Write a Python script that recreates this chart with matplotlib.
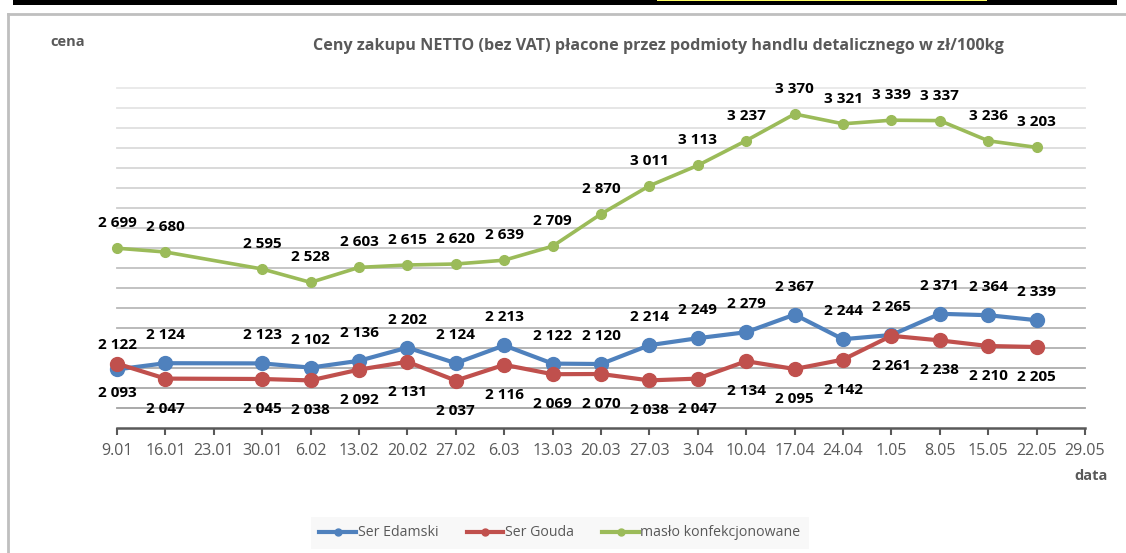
import matplotlib
matplotlib.use("Agg")
import matplotlib.pyplot as plt
from matplotlib.lines import Line2D
from matplotlib.patches import Rectangle

plt.rcParams['font.family'] = ['Open Sans', 'DejaVu Sans']

# tick labels on the x axis (weekly)
tick_dates = ["9.01", "16.01", "23.01", "30.01", "6.02", "13.02", "20.02", "27.02",
              "6.03", "13.03", "20.03", "27.03", "3.04", "10.04", "17.04", "24.04",
              "1.05", "8.05", "15.05", "22.05", "29.05"]

# dates with observations
obs_dates = ["9.01", "16.01", "30.01", "6.02", "13.02", "20.02", "27.02", "6.03",
             "13.03", "20.03", "27.03", "3.04", "10.04", "17.04", "24.04", "1.05",
             "8.05", "15.05", "22.05"]

edamski = [2093, 2124, 2123, 2102, 2136, 2202, 2124, 2213, 2122, 2120,
           2214, 2249, 2279, 2367, 2244, 2265, 2371, 2364, 2339]
gouda = [2122, 2047, 2045, 2038, 2092, 2131, 2037, 2116, 2069, 2070,
         2038, 2047, 2134, 2095, 2142, 2261, 2238, 2210, 2205]
maslo = [2699, 2680, 2595, 2528, 2603, 2615, 2620, 2639, 2709, 2870,
         3011, 3113, 3237, 3370, 3321, 3339, 3337, 3236, 3203]

names = ["Ser Edamski", "Ser Gouda", "masło konfekcjonowane"]
colors = ["#4F81BD", "#C0504D", "#9BBB59"]

W, H = 1126, 553
fig = plt.figure(figsize=(W / 100, H / 100), dpi=100)

def px(x, y):
    return x / W, 1 - y / H

# top strip (cut-off table) and chart frame
fig.patches.append(Rectangle(px(13, 5), (1117 - 13) / W, 5 / H, transform=fig.transFigure,
                             facecolor="black", edgecolor="none"))
fig.patches.append(Rectangle(px(657, 1), (987 - 657) / W, 1 / H, transform=fig.transFigure,
                             facecolor="#ffff66", edgecolor="none", zorder=3))
fig.lines.append(Line2D([8 / W, 1], [1 - 14 / H, 1 - 14 / H], transform=fig.transFigure,
                        color="#bfbfbf", lw=2))
fig.lines.append(Line2D([8 / W, 8 / W], [0, 1 - 14 / H], transform=fig.transFigure,
                        color="#bfbfbf", lw=2))

left, right, top, bottom = 117, 1085, 88, 428
ax = fig.add_axes([left / W, 1 - bottom / H, (right - left) / W, (bottom - top) / H])
ax.set_xlim(0, len(tick_dates) - 1)
ax.set_ylim(1800, 3500)

# gridlines, lighter toward the top
levels = list(range(1900, 3501, 100))
for i, lv in enumerate(levels):
    g = 0.64 + 0.27 * i / (len(levels) - 1)
    ax.axhline(lv, color=(g, g, g), lw=1.3, zorder=0, clip_on=False)

x = [tick_dates.index(d) for d in obs_dates]

series = [edamski, gouda, maslo]
msizes = [10, 10, 7]
lws = [3.0, 3.0, 2.6]
for vals, c, ms, lw in zip(series, colors, msizes, lws):
    ax.plot(x, vals, color=c, lw=lw, marker="o", ms=ms, zorder=3, clip_on=False)

lab = dict(fontsize=11, fontweight="bold", color="black", ha="center", va="center",
           annotation_clip=False)
fmt = lambda v: f"{v:,}".replace(",", " ")
for i, (xi, v) in enumerate(zip(x, edamski)):
    dy = -24 if i == 0 else 28
    ax.annotate(fmt(v), (xi, v), xytext=(0, dy * 0.72), textcoords="offset points", **lab)
for i, (xi, v) in enumerate(zip(x, gouda)):
    dy = 19 if i == 0 else -30
    ax.annotate(fmt(v), (xi, v), xytext=(0, dy * 0.72), textcoords="offset points", **lab)
for xi, v in zip(x, maslo):
    ax.annotate(fmt(v), (xi, v), xytext=(0, 25 * 0.72), textcoords="offset points", **lab)

for s in ["top", "right", "left"]:
    ax.spines[s].set_visible(False)
ax.spines["bottom"].set_color("#595959")
ax.spines["bottom"].set_linewidth(1.8)
ax.set_yticks([])
ax.set_xticks(range(len(tick_dates)))
ax.set_xticklabels(tick_dates)
ax.tick_params(axis="x", direction="out", length=5, width=1.5, color="#595959",
               labelcolor="#595959", labelsize=11.5, pad=6)

gray = "#595959"
fig.text(*px(658, 46), "Ceny zakupu NETTO (bez VAT) płacone przez podmioty handlu detalicznego w zł/100kg",
         ha="center", va="center", fontsize=11.6, fontweight="bold", color=gray)
fig.text(*px(68, 42), "cena", ha="center", va="center", fontsize=10.5, fontweight="bold", color=gray)
fig.text(*px(1091, 476), "data", ha="center", va="center", fontsize=10.5, fontweight="bold", color=gray)

handles = [Line2D([], [], color=c, lw=3, marker="o", ms=5) for c in colors]
leg = fig.legend(handles, names, loc="center", bbox_to_anchor=px(560, 533), ncol=3,
                 frameon=True, fontsize=10.2, handlelength=2.6, handletextpad=0.1,
                 columnspacing=2.0, borderpad=0.6, fancybox=False)
leg.get_frame().set_facecolor("#f7f7f7")
leg.get_frame().set_edgecolor("none")
for t in leg.get_texts():
    t.set_color(gray)

fig.savefig("out.png", dpi=100)
